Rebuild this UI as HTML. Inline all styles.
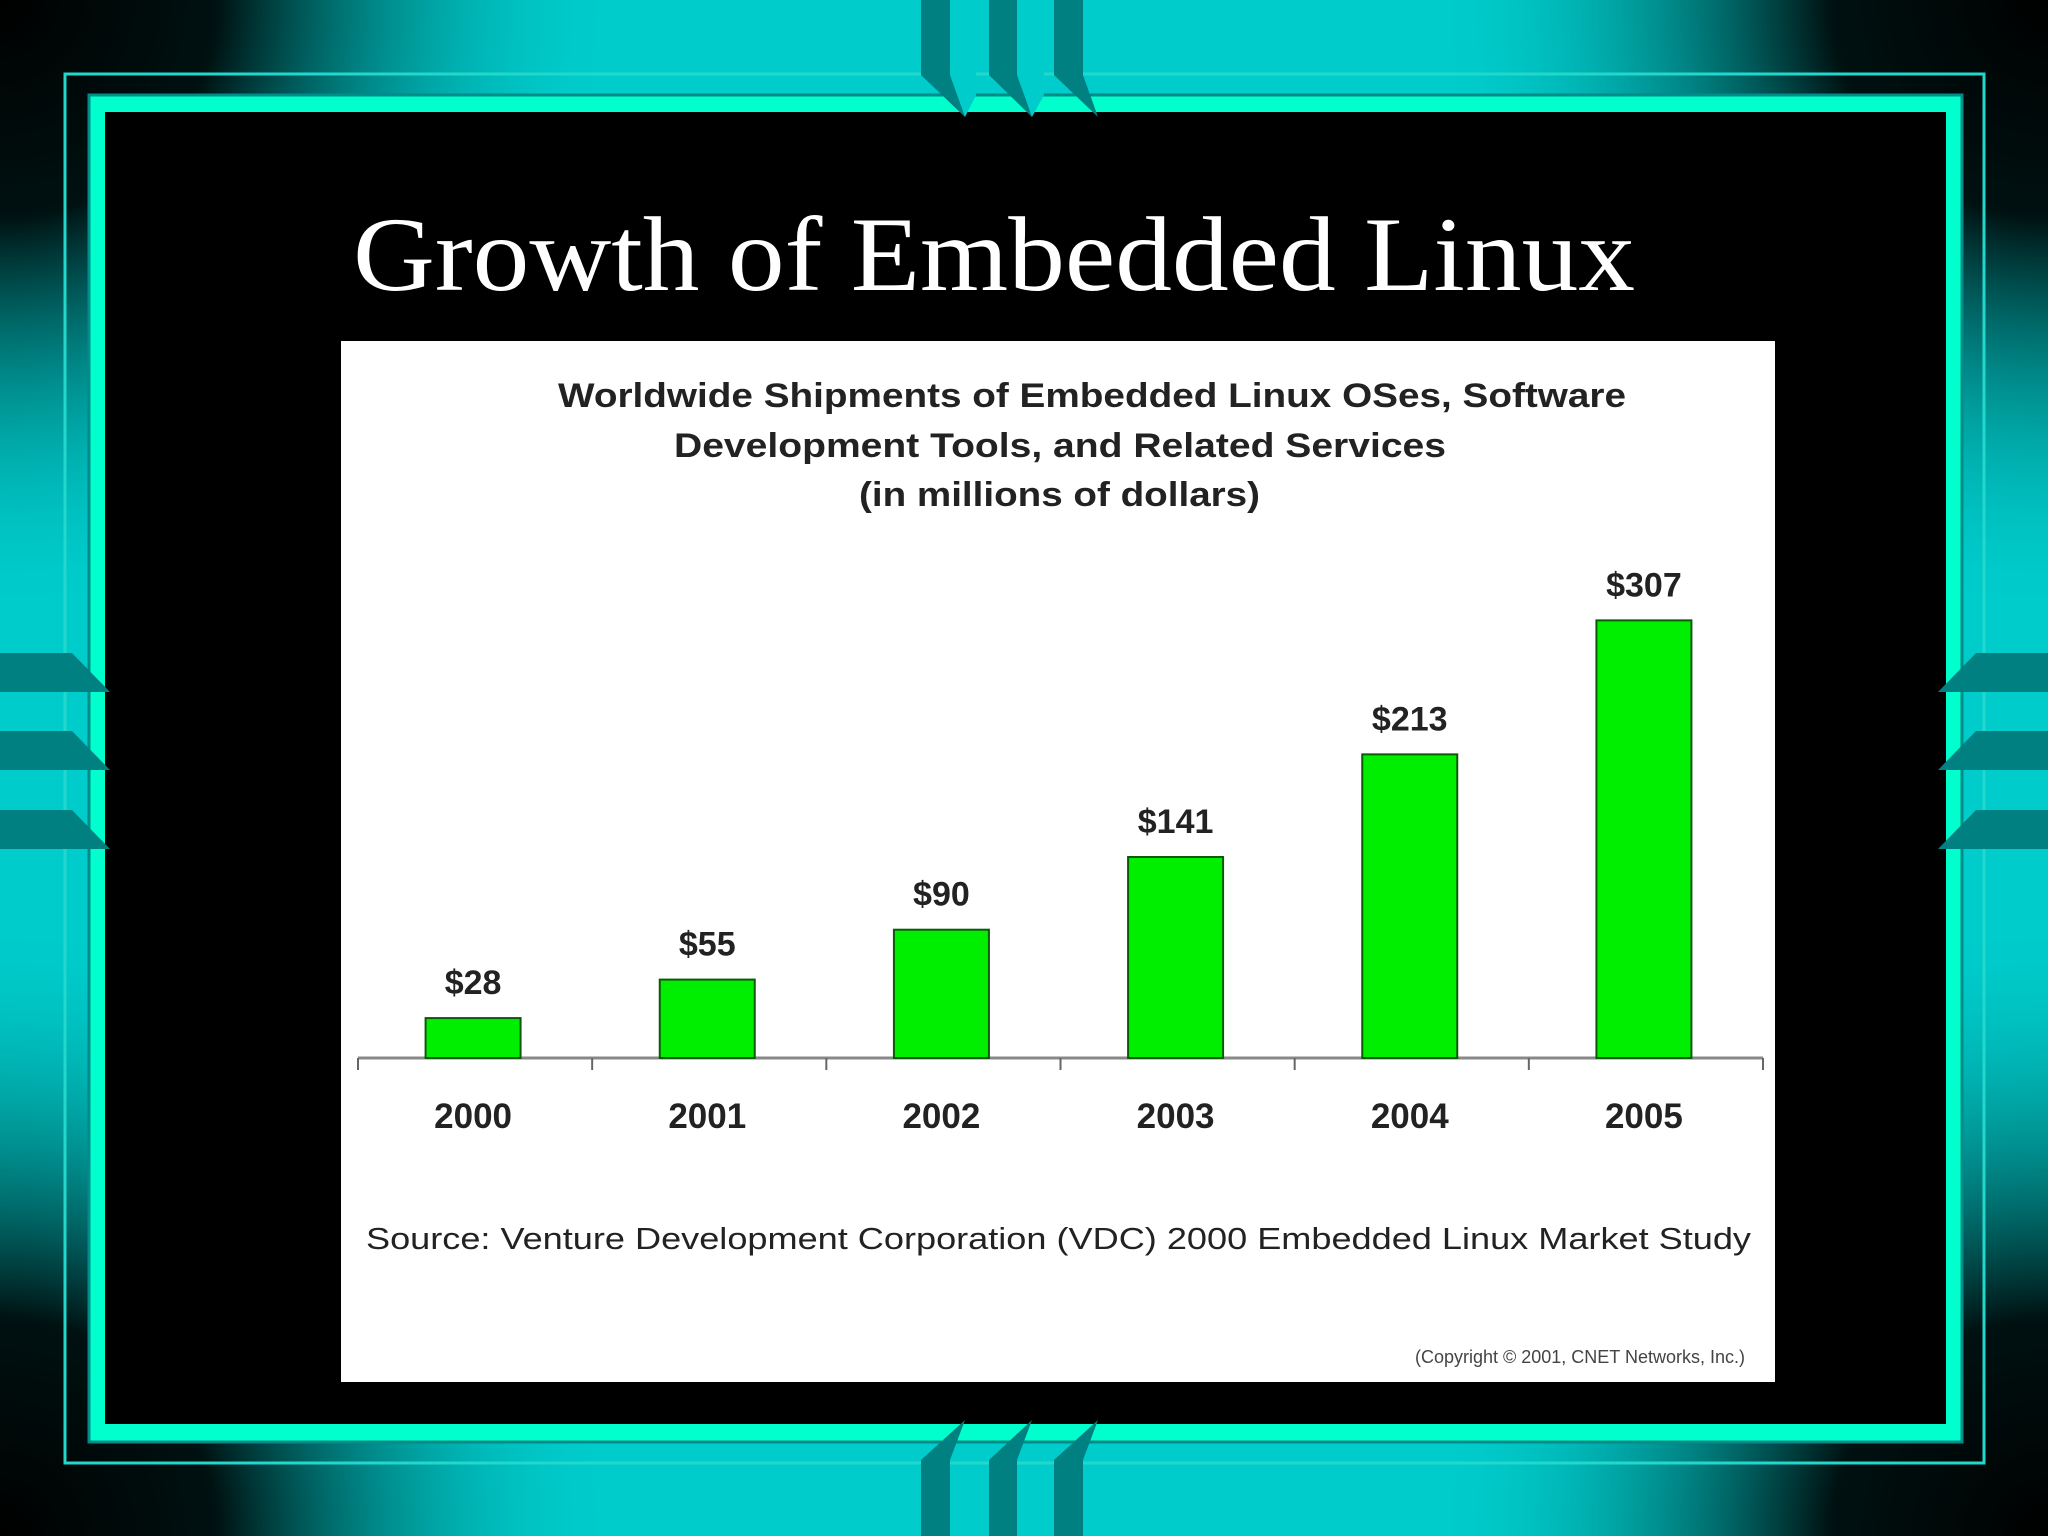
<!DOCTYPE html>
<html><head><meta charset="utf-8"><style>
html,body{margin:0;padding:0;width:2048px;height:1536px;overflow:hidden;background:#00cccc}
svg{display:block}
</style></head><body>
<svg width="2048" height="1536" viewBox="0 0 2048 1536">
<defs>
<radialGradient id="cTL" cx="0" cy="0" r="620" gradientUnits="userSpaceOnUse"><stop offset="0" stop-color="#000"/><stop offset="0.35" stop-color="#011"/><stop offset="1" stop-color="#00cccc" stop-opacity="0"/></radialGradient>
<radialGradient id="cTR" cx="2048" cy="0" r="620" gradientUnits="userSpaceOnUse"><stop offset="0" stop-color="#000"/><stop offset="0.35" stop-color="#011"/><stop offset="1" stop-color="#00cccc" stop-opacity="0"/></radialGradient>
<radialGradient id="cBL" cx="0" cy="1536" r="620" gradientUnits="userSpaceOnUse"><stop offset="0" stop-color="#000"/><stop offset="0.35" stop-color="#011"/><stop offset="1" stop-color="#00cccc" stop-opacity="0"/></radialGradient>
<radialGradient id="cBR" cx="2048" cy="1536" r="620" gradientUnits="userSpaceOnUse"><stop offset="0" stop-color="#000"/><stop offset="0.35" stop-color="#011"/><stop offset="1" stop-color="#00cccc" stop-opacity="0"/></radialGradient>
</defs>
<rect width="2048" height="1536" fill="#00cccc"/>
<rect width="2048" height="1536" fill="url(#cTL)"/>
<rect width="2048" height="1536" fill="url(#cTR)"/>
<rect width="2048" height="1536" fill="url(#cBL)"/>
<rect width="2048" height="1536" fill="url(#cBR)"/>
<rect x="65" y="74" width="1919" height="1389" fill="none" stroke="#22d8cc" stroke-width="3"/>
<rect x="89" y="95" width="1873" height="1347" fill="#00ffcc" stroke="#008c88" stroke-width="3"/>
<rect x="105" y="112" width="1841" height="1312" fill="#000"/>
<g>
<polygon fill="#00cccc" points="950,0 976,0 976,95 965,117 950,95"/>
<polygon fill="#00cccc" points="1017,0 1044,0 1044,95 1032,117 1017,95"/>
<polygon fill="#008080" points="921,0 950,0 950,75 965,117 921,75"/>
<polygon fill="#008080" points="989,0 1017,0 1017,75 1032,117 989,75"/>
<polygon fill="#008080" points="1054,0 1083,0 1083,75 1098,117 1054,75"/>
</g>
<g>
<polygon fill="#008080" points="921,1536 950,1536 950,1460 965,1420 921,1460"/>
<polygon fill="#008080" points="989,1536 1017,1536 1017,1460 1032,1420 989,1460"/>
<polygon fill="#008080" points="1054,1536 1083,1536 1083,1460 1098,1420 1054,1460"/>
</g>
<g fill="#008080">
<polygon points="0,653 72,653 110,692 0,692"/>
<polygon points="0,731 72,731 110,770 0,770"/>
<polygon points="0,810 72,810 110,849 0,849"/>
</g>
<g fill="#008080">
<polygon points="2048,653 1976,653 1938,692 2048,692"/>
<polygon points="2048,731 1976,731 1938,770 2048,770"/>
<polygon points="2048,810 1976,810 1938,849 2048,849"/>
</g>
<text x="353" y="290" font-family="Liberation Serif, serif" font-size="106" fill="#fff" textLength="1282" lengthAdjust="spacingAndGlyphs">Growth of Embedded Linux</text>
<rect x="341" y="341" width="1434" height="1041" fill="#fff"/>
<g font-family="Liberation Sans, sans-serif" font-weight="bold" font-size="34" fill="#222">
<text x="558" y="407" textLength="1068" lengthAdjust="spacingAndGlyphs">Worldwide Shipments of Embedded Linux OSes, Software</text>
<text x="674" y="457" textLength="772" lengthAdjust="spacingAndGlyphs">Development Tools, and Related Services</text>
<text x="859" y="506" textLength="401" lengthAdjust="spacingAndGlyphs">(in millions of dollars)</text>
</g>
<g id="chart"></g>
<text x="366" y="1249" font-family="Liberation Sans, sans-serif" font-size="31" fill="#222" textLength="1385" lengthAdjust="spacingAndGlyphs">Source:  Venture Development Corporation (VDC) 2000 Embedded Linux Market Study</text>
<text x="1745" y="1363" font-family="Liberation Sans, sans-serif" font-size="18" fill="#444" text-anchor="end">(Copyright © 2001, CNET Networks, Inc.)</text>
</svg>
<script>
const categories = ["2000","2001","2002","2003","2004","2005"];
const values = [28,55,90,141,213,307];
const valueLabels = ["$28","$55","$90","$141","$213","$307"];

const NS = "http://www.w3.org/2000/svg";
const g = document.getElementById("chart");
const x0 = 358, x1 = 1763, baseY = 1058, pxPerUnit = 1.0915*1.306;
const band = (x1 - x0) / categories.length;
const xCenter = i => x0 + band * (i + 0.5);
const yScale = v => baseY - v * pxPerUnit;
const barW = 95;
function mk(tag, attrs){const e=document.createElementNS(NS,tag);for(const k in attrs)e.setAttribute(k,attrs[k]);g.appendChild(e);return e;}

const axis = mk("line",{x1:x0,y1:baseY,x2:x1,y2:baseY,stroke:"#888","stroke-width":3});


for (let i=0;i<=categories.length;i++){
  const t = mk("line",{x1:x0+band*i,y1:baseY,x2:x0+band*i,y2:baseY+12,stroke:"#666","stroke-width":2});
  
  
}
categories.forEach((c,i)=>{
  const cx = xCenter(i) - 2, top = yScale(values[i]);
  const r = mk("rect",{x:cx-barW/2,y:top,width:barW,height:baseY-top,fill:"#00ee00",stroke:"#0a5a0a","stroke-width":2});
  
  
  const vl = mk("text",{x:cx,y:top-24,"text-anchor":"middle","font-family":"Liberation Sans, sans-serif","font-weight":"bold","font-size":34,fill:"#222"});
  vl.textContent = valueLabels[i];
  
  
  const yl = mk("text",{x:cx,y:1128,"text-anchor":"middle","font-family":"Liberation Sans, sans-serif","font-weight":"bold","font-size":35,fill:"#222"});
  yl.textContent = c;
  
  
});
</script>
</body></html>
